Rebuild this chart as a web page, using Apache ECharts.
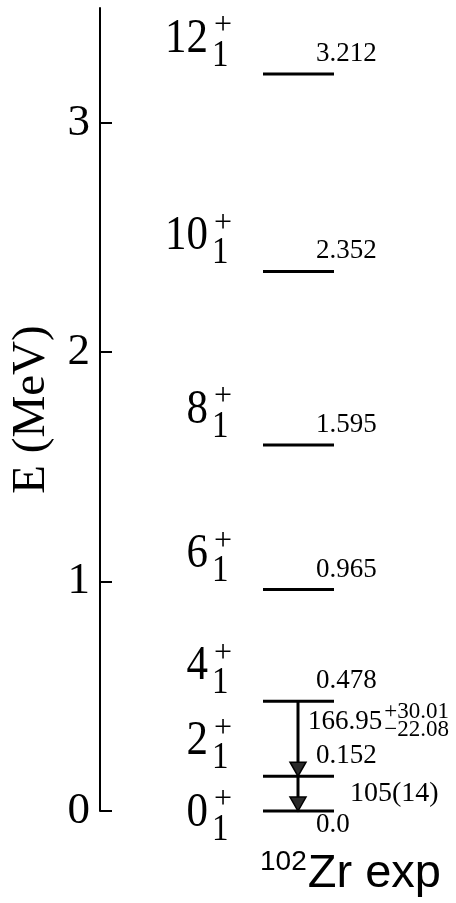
<!DOCTYPE html>
<html><head><meta charset="utf-8">
<script src="https://cdn.jsdelivr.net/npm/echarts@6/dist/echarts.min.js"></script>
<style>html,body{margin:0;padding:0;background:#fff}#c{width:456px;height:903px}</style>
</head><body><div id="c"></div>
<script>
// ---- data ----
const levelEnergies = [0.0, 0.152, 0.478, 0.965, 1.595, 2.352, 3.212];
const levelLabels = ['0.0', '0.152', '0.478', '0.965', '1.595', '2.352', '3.212'];
const spinValues = ['0', '2', '4', '6', '8', '10', '12'];
const spinParity = '+';
const spinOrder = '1';
const transFrom = [0.478, 0.152];
const transTo = [0.152, 0.0];
const transValues = ['166.95', '105(14)'];
const transErrUp = ['+30.01', ''];
const transErrDown = ['\u221222.08', ''];
const yTicks = [0, 1, 2, 3];
const nucleusMass = '102';
const nucleusName = 'Zr exp';

// ---- layout constants ----
const COL_X0 = 163, COL_X1 = 234, ARROW_X = 198;
const SERIF = '"Liberation Serif", "Times New Roman", serif';
const SANS = '"Liberation Sans", Arial, sans-serif';

const mctx = document.createElement('canvas').getContext('2d');
function textW(t, font) { mctx.font = font; return mctx.measureText(t).width; }

const chart = echarts.init(document.getElementById('c'), null, { renderer: 'canvas' });

function txt(x, y, text, size, family, align, sy) {
  return {
    type: 'text', x: x, y: y, scaleY: sy || 1,
    style: { text: text, fontSize: size, fontFamily: family, fill: '#000', align: align, verticalAlign: 'middle' }
  };
}

chart.setOption({
  animation: false,
  backgroundColor: '#fff',
  grid: { left: 100, right: 0, top: 8, bottom: 92, outerBoundsMode: 'none', containLabel: false },
  xAxis: { type: 'value', min: 0, max: 356, show: false },
  yAxis: {
    type: 'value', min: 0, max: 3.5, interval: 1,
    name: 'E (MeV)', nameLocation: 'middle', nameGap: 45, nameRotate: 90,
    nameTextStyle: { fontFamily: SERIF, fontSize: 47, color: '#000' },
    axisLine: { show: true, lineStyle: { color: '#000', width: 2 } },
    axisTick: { show: true, inside: true, length: 12, customValues: yTicks, lineStyle: { color: '#000', width: 2 } },
    axisLabel: { customValues: yTicks, fontFamily: SERIF, fontSize: 45, color: '#000', margin: 10 },
    splitLine: { show: false }
  },
  series: [
    {
      type: 'custom', clip: false, silent: true,
      data: levelEnergies.map((e, i) => [i, e]),
      renderItem: function (params, api) {
        const i = api.value(0), e = api.value(1);
        const p0 = api.coord([COL_X0, e]), p1 = api.coord([COL_X1, e]);
        const y = p0[1];
        const ch = [];
        ch.push({ type: 'line', shape: { x1: p0[0], y1: y, x2: p1[0], y2: y }, style: { stroke: '#000', lineWidth: 3 } });
        ch.push(txt(p0[0] + 53, y + (i === 0 ? 14 : -20), levelLabels[i], 27, SERIF, 'left'));
        const my = y + (i === 0 ? 2 : -35);
        ch.push(txt(p0[0] - 55, my, spinValues[i], 43, SERIF, 'right', 1.13));
        ch.push(txt(p0[0] - 49, my - 13, spinParity, 32, SERIF, 'left', 1.0));
        ch.push(txt(p0[0] - 51, my + 17, spinOrder, 33, SERIF, 'left', 1.13));
        if (i === 0) {
          ch.push(txt(p0[0] - 3, y + 51, nucleusMass, 28, SANS, 'left'));
          ch.push(txt(p0[0] - 3 + textW(nucleusMass, '28px ' + SANS) + 1, y + 63, nucleusName, 47, SANS, 'left'));
        }
        return { type: 'group', children: ch };
      }
    },
    {
      type: 'custom', clip: false, silent: true,
      data: transFrom.map((f, k) => [k, f, transTo[k]]),
      renderItem: function (params, api) {
        const k = api.value(0);
        const t = api.coord([ARROW_X, api.value(1)]);
        const b = api.coord([ARROW_X, api.value(2)]);
        const x = t[0];
        const ah = 14, aw = 8;
        const ch = [];
        ch.push({ type: 'line', shape: { x1: x, y1: t[1], x2: x, y2: b[1] - ah }, style: { stroke: '#000', lineWidth: 3 } });
        ch.push({ type: 'polygon', shape: { points: [[x - aw, b[1] - ah], [x + aw, b[1] - ah], [x, b[1]]] }, style: { fill: '#2a2a2a', stroke: '#000', lineWidth: 1.5 } });
        if (transErrUp[k]) {
          const mx = x + 10, my = t[1] + 21;
          ch.push(txt(mx, my, transValues[k], 27, SERIF, 'left'));
          const w = textW(transValues[k], '27px ' + SERIF);
          ch.push(txt(mx + w + 2, my - 10, transErrUp[k], 23, SERIF, 'left'));
          ch.push(txt(mx + w + 2, my + 8, transErrDown[k], 23, SERIF, 'left'));
        } else {
          ch.push(txt(x + 52, (t[1] + b[1]) / 2, transValues[k], 28, SERIF, 'left'));
        }
        return { type: 'group', children: ch };
      }
    }
  ]
});
</script>
</body></html>
